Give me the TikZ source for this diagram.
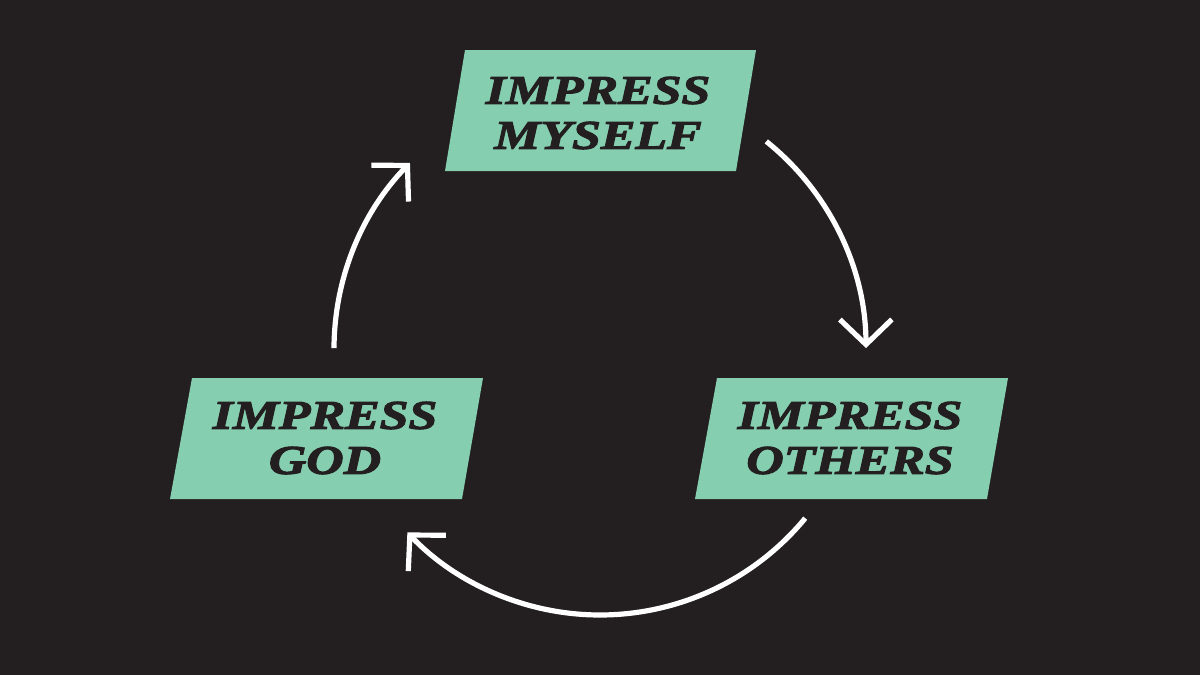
\documentclass[tikz,border=0pt]{standalone}
\usepackage{fontspec}
\newfontfamily\boxfont{Liberation Serif}[BoldItalicFeatures={FakeBold=2.8,FakeStretch=1.27}]
\usetikzlibrary{arrows.meta,calc}
\definecolor{bgdark}{HTML}{231F20}
\definecolor{mint}{HTML}{86CEB0}
\begin{document}
\begin{tikzpicture}[x=0.5pt,y=-0.5pt,
  boxfill/.style={fill=mint},
  boxtext/.style={text=bgdark, align=center, inner sep=0pt,
    font=\boxfont\bfseries\itshape\fontsize{20.4}{22.5}\selectfont},
  cyclearrow/.style={draw=white, line width=2.6pt, line cap=butt,
    -{Straight Barb[sharp, length=12.5pt, width=26pt]}}]
\useasboundingbox[fill=bgdark] (0,0) rectangle (1200,675);
% boxes
\fill[boxfill] (465,50) -- (756,50) -- (736,171) -- (445,171) -- cycle;
\fill[boxfill] (192,378) -- (483,378) -- (462,499) -- (170,499) -- cycle;
\fill[boxfill] (717,378) -- (1008,378) -- (987,499) -- (695,499) -- cycle;
\node[boxtext] (myself) at (598,113) {IMPRESS\\MYSELF};
\node[boxtext] (god) at (325,438) {IMPRESS\\GOD};
\node[boxtext] (others) at (850,438) {IMPRESS\\OTHERS};
% cycle arrows
\coordinate (ctr) at (600,349);
\path (ctr) ++(-51.3:266) coordinate (a1s);
\path (ctr) ++(39.5:266) coordinate (a2s);
\path (ctr) ++(180.2:266) coordinate (a3s);
\draw[cyclearrow] (a1s) arc[start angle=-51.3, end angle=-0.2, radius=266];
\draw[cyclearrow] (a2s) arc[start angle=39.5, end angle=136.4, radius=266];
\draw[cyclearrow] (a3s) arc[start angle=180.2, end angle=224.4, radius=266];
\end{tikzpicture}
\end{document}
